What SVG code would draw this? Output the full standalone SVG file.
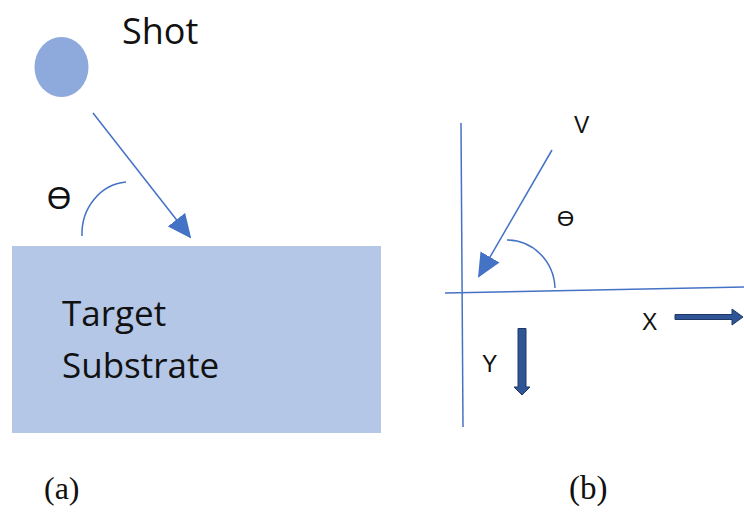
<svg xmlns="http://www.w3.org/2000/svg" width="744" height="512" viewBox="0 0 744 512">
<defs>
<style>
.ln{stroke:#4472C4;stroke-width:1.5;fill:none}
.sans{font-family:"Open Sans","Liberation Sans",sans-serif;fill:#111}
.ar{font-family:"Liberation Sans",Arial,sans-serif;fill:#111}
.ser{font-family:"Liberation Serif","Times New Roman",serif;fill:#111}
.blk{fill:#2F5597;stroke:#1F3864;stroke-width:1}
</style>
<marker id="ah2" markerWidth="24" markerHeight="22" refX="22" refY="11" orient="auto" markerUnits="userSpaceOnUse" viewBox="0 0 24 22">
<path d="M0,0 L24,11 L0,22 Z" fill="#4472C4"/>
</marker>
</defs>
<rect width="744" height="512" fill="#fff"/>
<g id="shot">
<ellipse cx="61.5" cy="67" rx="27" ry="30" fill="#8EA9DB"/>
<text class="sans" x="122" y="44" font-size="36">Shot</text>
</g>
<g id="substrate">
<rect x="12" y="246" width="369" height="187" fill="#B4C7E7"/>
<text class="sans" x="62" y="326" font-size="35">Target</text>
<text class="sans" x="62" y="378" font-size="35">Substrate</text>
</g>
<g id="labels">
<text class="ar" x="47" y="209" font-size="31">ϴ</text>
<text class="ser" x="44" y="499" font-size="32">(a)</text>
<text class="ser" x="569" y="499" font-size="33">(b)</text>
<text class="ar" x="574" y="133" font-size="23">V</text>
<text class="ar" x="557" y="226" font-size="22">ϴ</text>
<text class="ar" x="642" y="330" font-size="23">X</text>
<text class="ar" x="482" y="372" font-size="23">Y</text>
</g>
<g id="connectors">
<line class="ln" x1="93" y1="113" x2="190" y2="237" marker-end="url(#ah2)"/>
<path class="ln" d="M82,236 A48,52 0 0 1 126,182"/>
<line class="ln" x1="461" y1="123" x2="463" y2="427"/>
<line class="ln" x1="445" y1="293" x2="744" y2="287"/>
<line class="ln" x1="552" y1="150" x2="479" y2="276" marker-end="url(#ah2)"/>
<path class="ln" d="M507,240 A48,50 0 0 1 555,288"/>
<path class="blk" d="M675,314.5 L732,314.5 L732,309 L743,317 L732,325 L732,319.5 L675,319.5 Z"/>
<path class="blk" d="M518,328.5 L526,328.5 L526,387 L530,387 L522,395 L514,387 L518,387 Z"/>
</g>
</svg>
